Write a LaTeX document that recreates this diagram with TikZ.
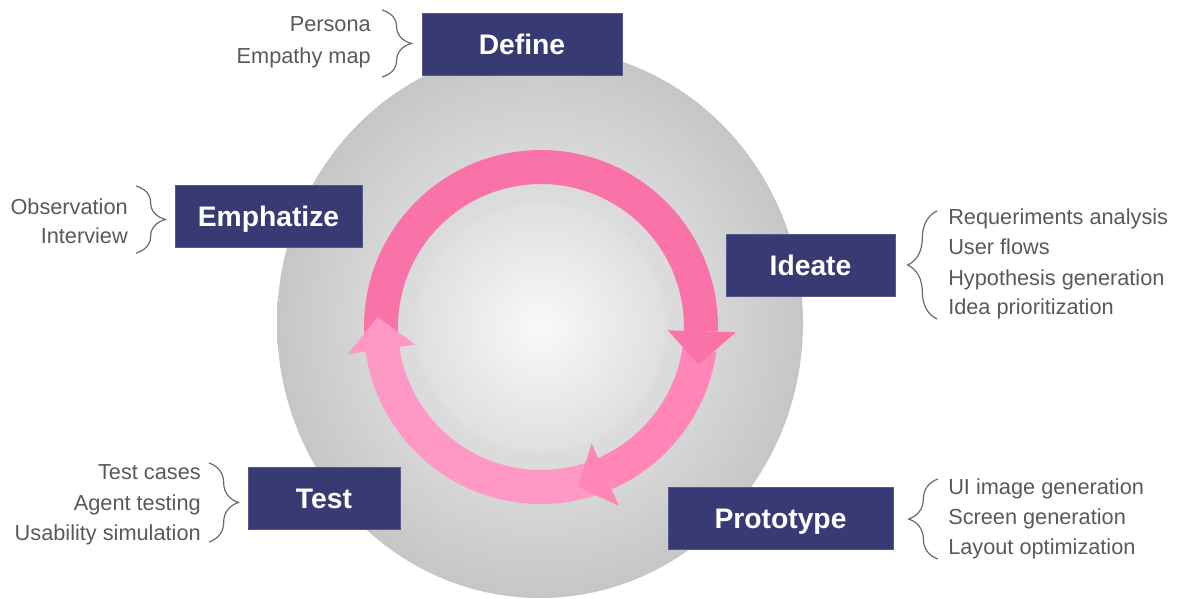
\documentclass[tikz,border=0pt]{standalone}
\usepackage{fontspec}
\setmainfont{Liberation Sans}
\usetikzlibrary{decorations.pathreplacing}

\definecolor{navy}{HTML}{383B73}
\definecolor{navyedge}{HTML}{55588A}
\definecolor{sidegray}{HTML}{595959}
\definecolor{bracegray}{HTML}{6A6A6A}
\definecolor{pinkA}{HTML}{F973A8}
\definecolor{pinkB}{HTML}{FF86B6}
\definecolor{pinkC}{HTML}{FF98C4}
\definecolor{bgA}{HTML}{E6E6E6}
\definecolor{bgB}{HTML}{D9D9D9}
\definecolor{bgC}{HTML}{C6C6C6}
\definecolor{hubA}{HTML}{F9F9F9}
\definecolor{hubB}{HTML}{DFDFDF}

\pgfdeclareradialshading{outerdisk}{\pgfpoint{0bp}{0bp}}%
  {color(0bp)=(bgA); color(15bp)=(bgB); color(25bp)=(bgC); color(50bp)=(bgC)}
\pgfdeclareradialshading{hubdisk}{\pgfpoint{0bp}{0bp}}%
  {color(0bp)=(hubA); color(25bp)=(hubB); color(50bp)=(hubB)}

\tikzset{
  stagebox/.style={fill=navy, draw=navyedge, line width=0.6pt, text=white,
    font=\fontsize{21.2pt}{24pt}\selectfont\bfseries,
    text height=15.2pt, text depth=0pt, minimum height=46.5pt, inner sep=0pt},
  sidetext/.style={text=sidegray, font=\fontsize{16.3pt}{19pt}\selectfont,
    text height=11.7pt, text depth=0pt, inner sep=0pt},
  bracket/.style={draw=bracegray, line width=0.9pt, decorate,
    decoration={brace, amplitude=22pt}},
}

\begin{document}
\begin{tikzpicture}[x=0.75pt, y=0.75pt]
\useasboundingbox (0,0) rectangle (1177,-599);

% background discs
\shade[shading=outerdisk] (540,-323) ellipse [x radius=263, y radius=275];
\coordinate (C) at (541,-327);
\shade[shading=hubdisk] (C) circle [radius=125];

% cycle arrows: shafts first, heads on top
\draw[pinkA, line width=25.5pt] (C) ++(184:160) arc[start angle=184, end angle=-1.5, radius=160];
\draw[pinkB, line width=25.5pt] (C) ++(-8:160) arc[start angle=-8, end angle=-66.5, radius=160];
\draw[pinkC, line width=25.5pt] (C) ++(-70:160) arc[start angle=-70, end angle=-172, radius=160];
\fill[pinkA] (C) +(-1.5:127) -- +(-1.5:195) -- +(-13.5:162) -- cycle;
\fill[pinkB] (C) +(-66.5:127) -- +(-66.5:195) -- +(-77:164) -- cycle;
\fill[pinkC] (C) +(188:127) -- +(188:195) -- +(176.5:164) -- cycle;

% stage boxes
\node[stagebox, minimum width=150pt]    (define)    at (522,-44)    {Define};
\node[stagebox, minimum width=140.25pt] (empathize) at (268.5,-216.5) {Emphatize};
\node[stagebox, minimum width=126.75pt] (ideate)    at (810.5,-265) {Ideate};
\node[stagebox, minimum width=168.75pt] (prototype) at (780.5,-518) {Prototype};
\node[stagebox, minimum width=114pt]    (test)      at (324,-498.5) {Test};

% braces
\coordinate (dtop) at (382,-10);  \coordinate (dbot) at (382,-77);
\coordinate (etop) at (136,-186); \coordinate (ebot) at (136,-253);
\coordinate (ttop) at (209,-463); \coordinate (tbot) at (209,-542);
\coordinate (itop) at (937,-211); \coordinate (ibot) at (937,-319);
\coordinate (ptop) at (938,-479); \coordinate (pbot) at (938,-559);
\draw[bracket] (dtop) -- (dbot);
\draw[bracket] (etop) -- (ebot);
\draw[bracket] (ttop) -- (tbot);
\draw[bracket] (ibot) -- (itop);
\draw[bracket] (pbot) -- (ptop);

% activity lists
\node[sidetext, anchor=east] (d1) at (371,-24) {Persona};
\node[sidetext, anchor=east] (d2) at (371,-56) {Empathy map};

\node[sidetext, anchor=east] (e1) at (128,-207) {Observation};
\node[sidetext, anchor=east] (e2) at (128,-236) {Interview};

\node[sidetext, anchor=west] (i1) at (948,-217) {Requeriments analysis};
\node[sidetext, anchor=west] (i2) at (948,-247) {User flows};
\node[sidetext, anchor=west] (i3) at (948,-278) {Hypothesis generation};
\node[sidetext, anchor=west] (i4) at (948,-307) {Idea prioritization};

\node[sidetext, anchor=west] (p1) at (948,-487) {UI image generation};
\node[sidetext, anchor=west] (p2) at (948,-517) {Screen generation};
\node[sidetext, anchor=west] (p3) at (948,-547) {Layout optimization};

\node[sidetext, anchor=east] (t1) at (201,-472) {Test cases};
\node[sidetext, anchor=east] (t2) at (201,-503) {Agent testing};
\node[sidetext, anchor=east] (t3) at (201,-533) {Usability simulation};
\end{tikzpicture}
\end{document}
